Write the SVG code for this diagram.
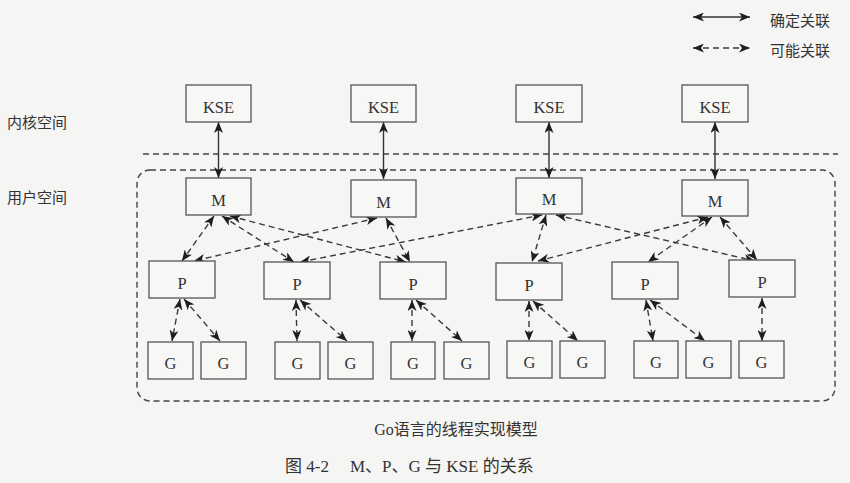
<svg xmlns="http://www.w3.org/2000/svg" width="850" height="483" viewBox="0 0 850 483">
<style>
.bg{fill:#f5f5f3}
.box{fill:#f7f7f5;stroke:#555;stroke-width:1.3}
.lbl{font-family:"Liberation Serif","Noto Sans CJK SC",serif;font-size:16.5px;fill:#333;text-anchor:middle}
.cjk{font-family:"Liberation Serif","Noto Sans CJK SC",serif;fill:#333}
.solid{stroke:#333;stroke-width:1.4;fill:none;marker-start:url(#ah);marker-end:url(#ah)}
.dash{stroke:#3a3a3a;stroke-width:1.4;fill:none;stroke-dasharray:6 4;marker-start:url(#ah);marker-end:url(#ah)}
.sep{stroke:#444;stroke-width:1.4;fill:none;stroke-dasharray:6 4}
</style>
<defs>
<marker id="ah" viewBox="0 0 11 9" refX="11" refY="4.5" markerWidth="11" markerHeight="9" markerUnits="userSpaceOnUse" orient="auto-start-reverse">
<path d="M0,0 L11,4.5 L0,9 L3,4.5 z" fill="#1e1e1e"/>
</marker>
</defs>
<rect class="bg" x="0" y="0" width="850" height="483"/>

<g id="legend">
<line class="solid" x1="693" y1="17" x2="750" y2="17"/>
<text class="cjk" x="770" y="26" font-size="15">确定关联</text>
<line class="dash" x1="693" y1="48" x2="750" y2="48"/>
<text class="cjk" x="770" y="56" font-size="15">可能关联</text>
</g>

<g id="space-labels">
<text class="cjk" x="7" y="128" font-size="15">内核空间</text>
<text class="cjk" x="7" y="203" font-size="15">用户空间</text>
<line class="sep" x1="143" y1="154" x2="838" y2="154"/>
<rect class="sep" x="137" y="170" width="698" height="231" rx="13" ry="13"/>
</g>

<g id="connectors">
<line class="solid" x1="218.5" y1="122" x2="218.5" y2="178"/>
<line class="solid" x1="383.5" y1="122" x2="383.5" y2="179"/>
<line class="solid" x1="549" y1="122" x2="549" y2="178"/>
<line class="solid" x1="715" y1="122" x2="715" y2="179"/>

<line class="dash" x1="214" y1="216" x2="182" y2="261"/>
<line class="dash" x1="222" y1="216" x2="294" y2="262"/>
<line class="dash" x1="230" y1="216" x2="406" y2="262"/>
<line class="dash" x1="377" y1="218" x2="194" y2="261"/>
<line class="dash" x1="386" y1="218" x2="410" y2="262"/>
<line class="dash" x1="542" y1="215" x2="300" y2="262"/>
<line class="dash" x1="546" y1="215" x2="532" y2="262"/>
<line class="dash" x1="556" y1="215" x2="755" y2="261"/>
<line class="dash" x1="708" y1="217" x2="538" y2="261"/>
<line class="dash" x1="712" y1="217" x2="648" y2="262"/>
<line class="dash" x1="720" y1="217" x2="757" y2="260"/>

<line class="dash" x1="180" y1="299" x2="172" y2="341"/>
<line class="dash" x1="184" y1="299" x2="220" y2="341"/>
<line class="dash" x1="296" y1="300" x2="297" y2="341"/>
<line class="dash" x1="300" y1="300" x2="347" y2="341"/>
<line class="dash" x1="412" y1="300" x2="412" y2="341"/>
<line class="dash" x1="416" y1="300" x2="462" y2="341"/>
<line class="dash" x1="529" y1="301" x2="529" y2="341"/>
<line class="dash" x1="533" y1="301" x2="578" y2="341"/>
<line class="dash" x1="646" y1="300" x2="653" y2="341"/>
<line class="dash" x1="650" y1="300" x2="705" y2="341"/>
<line class="dash" x1="762" y1="298" x2="762" y2="341"/>
</g>

<g id="kse1"><rect class="box" x="186" y="85" width="65" height="37"/><text class="lbl" x="218.5" y="112.5">KSE</text></g>
<g id="kse2"><rect class="box" x="351" y="85" width="65" height="37"/><text class="lbl" x="383.5" y="112.5">KSE</text></g>
<g id="kse3"><rect class="box" x="516" y="85" width="66" height="37"/><text class="lbl" x="549" y="112.5">KSE</text></g>
<g id="kse4"><rect class="box" x="682" y="85" width="66" height="37"/><text class="lbl" x="715" y="112.5">KSE</text></g>

<g id="m1"><rect class="box" x="186" y="178" width="65" height="37"/><text class="lbl" x="218.5" y="205.5">M</text></g>
<g id="m2"><rect class="box" x="351" y="180" width="65" height="37"/><text class="lbl" x="383.5" y="207.5">M</text></g>
<g id="m3"><rect class="box" x="516" y="178" width="66" height="36"/><text class="lbl" x="549" y="205">M</text></g>
<g id="m4"><rect class="box" x="682" y="180" width="66" height="36"/><text class="lbl" x="715" y="207">M</text></g>

<g id="p1"><rect class="box" x="149" y="261" width="66" height="37"/><text class="lbl" x="182" y="289">P</text></g>
<g id="p2"><rect class="box" x="264" y="262" width="66" height="37"/><text class="lbl" x="297" y="290">P</text></g>
<g id="p3"><rect class="box" x="380" y="262" width="66" height="37"/><text class="lbl" x="413" y="290">P</text></g>
<g id="p4"><rect class="box" x="496" y="263" width="66" height="37"/><text class="lbl" x="529" y="291">P</text></g>
<g id="p5"><rect class="box" x="612" y="262" width="66" height="37"/><text class="lbl" x="645" y="290">P</text></g>
<g id="p6"><rect class="box" x="729" y="260" width="66" height="37"/><text class="lbl" x="762" y="288">P</text></g>

<g id="g1"><rect class="box" x="148" y="342" width="45" height="37"/><text class="lbl" x="170.5" y="368.5">G</text></g>
<g id="g2"><rect class="box" x="201" y="342" width="45" height="37"/><text class="lbl" x="223.5" y="368.5">G</text></g>
<g id="g3"><rect class="box" x="275" y="342" width="45" height="37"/><text class="lbl" x="297.5" y="368.5">G</text></g>
<g id="g4"><rect class="box" x="328" y="342" width="45" height="37"/><text class="lbl" x="350.5" y="368.5">G</text></g>
<g id="g5"><rect class="box" x="391" y="342" width="44" height="37"/><text class="lbl" x="413" y="368.5">G</text></g>
<g id="g6"><rect class="box" x="444" y="342" width="45" height="37"/><text class="lbl" x="466.5" y="368.5">G</text></g>
<g id="g7"><rect class="box" x="507" y="341" width="45" height="37"/><text class="lbl" x="529.5" y="367.5">G</text></g>
<g id="g8"><rect class="box" x="560" y="341" width="45" height="37"/><text class="lbl" x="582.5" y="367.5">G</text></g>
<g id="g9"><rect class="box" x="634" y="341" width="44" height="37"/><text class="lbl" x="656" y="367.5">G</text></g>
<g id="g10"><rect class="box" x="686" y="341" width="45" height="37"/><text class="lbl" x="708.5" y="367.5">G</text></g>
<g id="g11"><rect class="box" x="739" y="341" width="45" height="37"/><text class="lbl" x="761.5" y="367.5">G</text></g>

<g id="captions">
<text class="cjk" x="456" y="435" font-size="16" text-anchor="middle">Go语言的线程实现模型</text>
<text class="cjk" x="285" y="472" font-size="17">图 4-2<tspan x="350">M、P、G 与 KSE 的关系</tspan></text>
</g>
</svg>
